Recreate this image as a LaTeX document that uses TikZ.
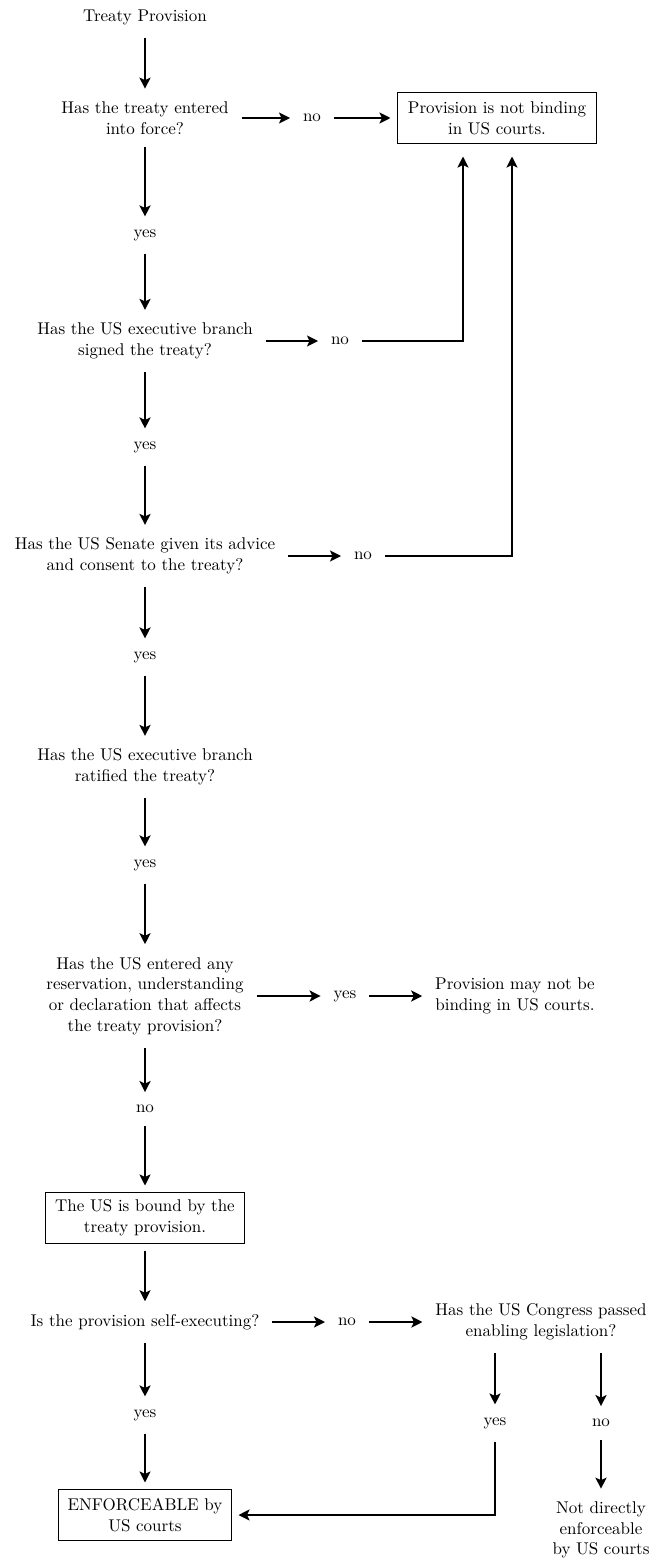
\documentclass[tikz,border=0pt]{standalone}
\usepackage{fontspec}
\setmainfont{lmroman10-regular.otf}
\usepackage{tikz}
\usetikzlibrary{positioning,arrows.meta}

\begin{document}
\begin{tikzpicture}[x=1pt,y=-1pt,
                    every node/.style={font=\fontsize{17}{20.7}\selectfont},
                    texto/.style={align=center,inner sep=0pt,outer sep=13pt},
                    caja/.style={draw,line width=1.5pt,align=center,inner sep=6pt,outer sep=7pt,minimum width=199pt,minimum height=51pt},
                    flecha/.style={-{Stealth[length=11pt,width=11pt,inset=2.5pt]},line width=2.6pt},
                    linea/.style={line width=2.6pt}]
  \useasboundingbox (0,0) rectangle (652,1560);
  % columna principal
  \node[texto] (tp) at (145,17) {Treaty Provision};
  \node[texto] (q1) at (145,118) {Has the treaty entered\\into force?};
  \node[texto] (si1) at (145,235) {yes};
  \node[texto] (q2) at (145,341) {Has the US executive branch\\signed the treaty?};
  \node[texto] (si2) at (145,447) {yes};
  \node[texto] (q3) at (145,556) {Has the US Senate given its advice\\and consent to the treaty?};
  \node[texto] (si3) at (145,657) {yes};
  \node[texto] (q4) at (145,767) {Has the US executive branch\\ratified the treaty?};
  \node[texto] (si4) at (145,865) {yes};
  \node[texto] (q5) at (145,996) {Has the US entered any\\reservation, understanding\\or declaration that affects\\the treaty provision?};
  \node[texto] (no5) at (145,1109) {no};
  \node[caja] (bound) at (145,1218) {The US is bound by the\\treaty provision.};
  \node[texto] (q6) at (145,1322) {Is the provision self-executing?};
  \node[texto] (si6) at (145,1415) {yes};
  \node[caja,minimum width=173pt] (enf) at (145,1515) {ENFORCEABLE by\\US courts};
  % lado derecho
  \node[texto] (no1) at (312,118) {no};
  \node[caja] (nb) at (497,118) {Provision is not binding\\in US courts.};
  \node[texto] (no2) at (340,341) {no};
  \node[texto] (no3) at (363,556) {no};
  \node[texto] (si5) at (345,996) {yes};
  \node[texto] (pm) at (515,996) {Provision may not be\\binding in US courts.};
  \node[texto] (no6) at (347,1322) {no};
  \node[texto] (cg) at (541,1322) {Has the US Congress passed\\enabling legislation?};
  \node[texto] (sic) at (495,1423) {yes};
  \node[texto] (noc) at (601,1423) {no};
  \node[texto] (nde) at (601,1530) {Not directly\\enforceable\\by US courts};

  \draw[flecha] (tp) -- (q1);
  \draw[flecha] (q1) -- (si1);
  \draw[flecha] (si1) -- (q2);
  \draw[flecha] (q2) -- (si2);
  \draw[flecha] (si2) -- (q3);
  \draw[flecha] (q3) -- (si3);
  \draw[flecha] (si3) -- (q4);
  \draw[flecha] (q4) -- (si4);
  \draw[flecha] (si4) -- (q5);
  \draw[flecha] (q5) -- (no5);
  \draw[flecha] (no5) -- (bound);
  \draw[flecha] (bound) -- (q6);
  \draw[flecha] (q6) -- (si6);
  \draw[flecha] (si6) -- (enf);

  \draw[flecha] (q1) -- (no1);
  \draw[flecha] (no1) -- (nb);
  \draw[flecha] (q2) -- (no2);
  \draw[flecha] (no2) -| ([xshift=-34pt,yshift=-6pt]nb.south);
  \draw[flecha] (q3) -- (no3);
  \draw[flecha] (no3) -| ([xshift=15pt,yshift=-6pt]nb.south);
  \draw[flecha] (q5) -- (si5);
  \draw[flecha] (si5) -- (pm);
  \draw[flecha] (q6) -- (no6);
  \draw[flecha] (no6) -- (cg);
  \draw[flecha] (cg.south -| sic) -- (sic);
  \draw[flecha] (cg.south -| noc) -- (noc);
  \draw[flecha] (sic) |- (enf);
  \draw[flecha] (noc) -- (nde);
\end{tikzpicture}
\end{document}
